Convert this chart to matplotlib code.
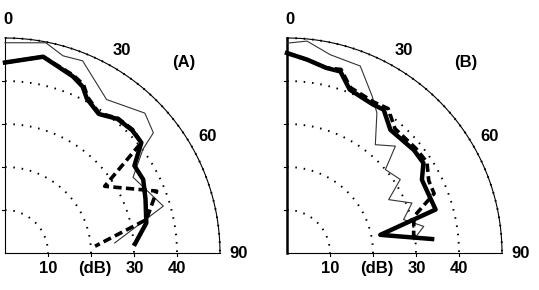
import numpy as np
import matplotlib.pyplot as plt

plt.rcParams['font.family'] = ['Liberation Sans', 'DejaVu Sans']

# angle (deg from vertical) and level (dB)
a_thick_ang = [0, 11, 21, 25, 28, 34, 40, 46, 51, 56, 62, 69, 78, 86]
a_thick_db = [44.3, 46.5, 44.0, 42.7, 40.6, 39.0, 40.7, 41.1, 40.8, 36.3, 36.4, 35.0, 33.6, 30.3]
a_dash_ang = [0, 11, 21, 25, 28, 34, 40, 46, 51, 56.2, 67.8, 76.7, 85.7]
a_dash_db = [44.3, 46.5, 44.3, 43.2, 41.0, 39.2, 40.9, 41.3, 40.8, 27.9, 38.1, 33.8, 21.0]
a_thin_ang = [0, 11, 16.4, 22, 33.5, 45, 51, 53, 59.4, 73.5, 84.8]
a_thin_db = [48.9, 49.8, 47.8, 48.2, 42.8, 46.0, 44.4, 40.2, 34.6, 38.4, 25.6]

b_thick_ang = [0, 6, 12, 16.4, 21, 30, 34, 40, 51, 56.6, 61.5, 73.7, 79, 84.5]
b_thick_db = [46.5, 45.2, 44.0, 44.0, 40.7, 39.9, 40.2, 37.4, 38.0, 38.0, 35.7, 36.0, 22.1, 33.9]
b_dash_ang = [0, 6, 12, 16.4, 21, 30, 35, 41, 51, 57, 63, 68, 74, 84]
b_dash_db = [46.5, 45.2, 44.0, 44.5, 41.2, 40.5, 41.0, 38.3, 38.6, 38.8, 37.0, 36.9, 30.7, 29.6]
b_thin_ang = [0, 5.4, 12.3, 21.4, 28.5, 32.7, 39.2, 45.4, 49.7, 57, 62.3, 68.2, 74, 79, 84]
b_thin_db = [48.8, 49.5, 47.2, 46.7, 41.5, 38.7, 32.5, 35.4, 30.0, 31.4, 26.7, 31.3, 28.2, 32.4, 29.6]

rings = [10, 20, 30, 40, 50]
ring_labels = ['10', '(dB)', '30', '40']
ang_labels = ['0', '30', '60', '90']


def xy(ang, db):
    t = np.radians(ang)
    r = np.array(db)
    return r * np.sin(t), r * np.cos(t)


def panel(ax, tag, thick, dash, thin, axis_lw):
    t = np.linspace(0, np.pi / 2, 200)
    for r in rings:
        ax.plot(r * np.sin(t), r * np.cos(t), color='black', lw=1.4,
                linestyle=(0, (0.8, 3.5)), clip_on=False)
    ax.plot(50 * np.sin(t), 50 * np.cos(t), color='black', lw=0.8, clip_on=False)
    ax.plot([0, 0], [0, 50], color='black', lw=axis_lw, clip_on=False)
    ax.plot([0, 50], [0, 0], color='black', lw=0.8, clip_on=False)
    for r in rings[:-1]:
        ax.plot([r, r], [0, -0.8], color='black', lw=0.8, clip_on=False)
        ax.plot([0, -0.8], [r, r], color='black', lw=0.8, clip_on=False)

    x, y = xy(*thin)
    ax.plot(x, y, color='#333333', lw=0.8, clip_on=False)
    x, y = xy(*dash)
    ax.plot(x, y, color='black', lw=2.6, linestyle=(0, (2.3, 1.2)), clip_on=False)
    x, y = xy(*thick)
    ax.plot(x, y, color='black', lw=3.2, clip_on=False)

    kw = dict(fontsize=12, fontweight='bold', ha='center', va='center')
    for r, lab in zip([10, 21, 30.2, 40], ring_labels):
        ax.text(r, -3.5, lab, **kw)
    ax.text(0.6, 54.3, ang_labels[0], **kw)
    ax.text(27.1, 47.2, ang_labels[1], **kw)
    ax.text(47.0, 27.0, ang_labels[2], **kw)
    ax.text(54.3, -0.1, ang_labels[3], **kw)
    ax.text(41.5, 44.4, tag, **kw)

    ax.set_xlim(0, 50)
    ax.set_ylim(0, 50)
    ax.set_aspect('equal')
    ax.axis('off')


fig = plt.figure(figsize=(5.39, 2.90), dpi=100)
ax1 = fig.add_axes([5 / 539, 37 / 290, 215 / 539, 215 / 290])
ax2 = fig.add_axes([287 / 539, 37 / 290, 215 / 539, 215 / 290])

panel(ax1, '(A)', (a_thick_ang, a_thick_db), (a_dash_ang, a_dash_db),
      (a_thin_ang, a_thin_db), 0.8)
panel(ax2, '(B)', (b_thick_ang, b_thick_db), (b_dash_ang, b_dash_db),
      (b_thin_ang, b_thin_db), 1.8)

fig.savefig('out.png', dpi=100)
